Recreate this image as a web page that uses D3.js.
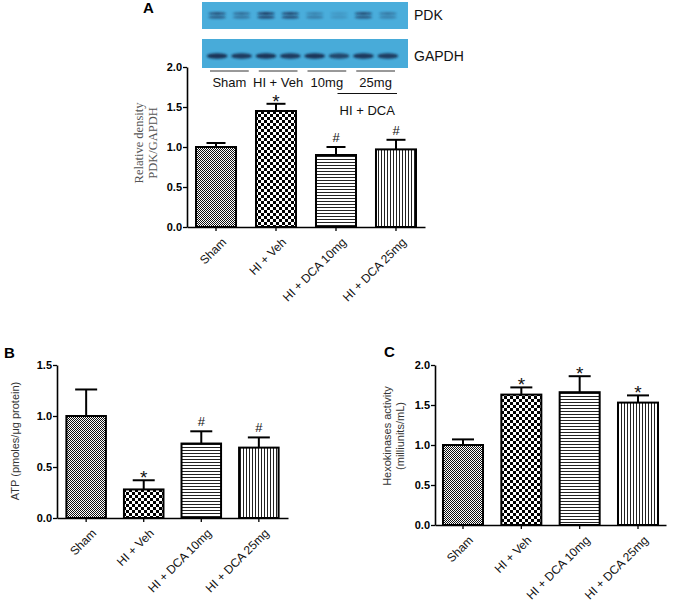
<!DOCTYPE html>
<html><head><meta charset="utf-8">
<script src="https://cdn.jsdelivr.net/npm/d3@7"></script>
<style>
body{margin:0;background:#fff}
svg{display:block;font-family:Arial,"Liberation Sans",sans-serif}
</style>
</head><body>
<svg id="chart" width="675" height="603"></svg>
<script>
// ---------------- data ----------------
const categories = ["Sham", "HI + Veh", "HI + DCA 10mg", "HI + DCA 25mg"];
const patterns = ["pSham", "pVeh", "pH", "pV"];

const pdkMeans = [1.00, 1.45, 0.90, 0.97];
const pdkErrors = [0.05, 0.09, 0.10, 0.12];
const pdkMarks = ["", "*", "#", "#"];
const pdkTicks = [0.0, 0.5, 1.0, 1.5, 2.0];

const atpMeans = [1.00, 0.28, 0.73, 0.69];
const atpErrors = [0.26, 0.09, 0.12, 0.10];
const atpMarks = ["", "*", "#", "#"];
const atpTicks = [0.0, 0.5, 1.0, 1.5];

const hkMeans = [1.00, 1.63, 1.66, 1.53];
const hkErrors = [0.07, 0.09, 0.20, 0.09];
const hkMarks = ["", "*", "*", "*"];
const hkTicks = [0.0, 0.5, 1.0, 1.5, 2.0];

// western blot lanes (relative band intensity)
const blotLanes = d3.range(8);
const pdkUpperBand = [0.75, 0.55, 0.95, 0.85, 0.35, 0.18, 0.80, 0.45];
const pdkLowerBand = [0.70, 0.50, 0.90, 0.85, 0.45, 0.22, 0.75, 0.40];
const gapdhBand = [0.95, 0.90, 0.95, 0.90, 0.95, 0.80, 0.92, 0.88];
const blotGroups = ["Sham", "HI + Veh", "10mg", "25mg"];

// ---------------- setup ----------------
const svg = d3.select("#chart");
svg.append("rect").attr("width", 675).attr("height", 603).attr("fill", "#fff");
const defs = svg.append("defs");

// patterns
const pS = defs.append("pattern").attr("id", "pSham").attr("patternUnits", "userSpaceOnUse").attr("width", 2).attr("height", 2);
pS.append("rect").attr("width", 2).attr("height", 2).attr("fill", "#fff");
pS.append("rect").attr("width", 1).attr("height", 1).attr("fill", "#111");
pS.append("rect").attr("x", 1).attr("y", 1).attr("width", 1).attr("height", 1).attr("fill", "#111");

const pVe = defs.append("pattern").attr("id", "pVeh").attr("patternUnits", "userSpaceOnUse").attr("width", 6).attr("height", 6);
pVe.append("rect").attr("width", 6).attr("height", 6).attr("fill", "#fff");
pVe.append("rect").attr("width", 3).attr("height", 3).attr("fill", "#000");
pVe.append("rect").attr("x", 3).attr("y", 3).attr("width", 3).attr("height", 3).attr("fill", "#000");

const pH = defs.append("pattern").attr("id", "pH").attr("patternUnits", "userSpaceOnUse").attr("width", 3).attr("height", 3);
pH.append("rect").attr("width", 3).attr("height", 3).attr("fill", "#fff");
pH.append("rect").attr("width", 3).attr("height", 1).attr("fill", "#222");

const pV = defs.append("pattern").attr("id", "pV").attr("patternUnits", "userSpaceOnUse").attr("width", 3).attr("height", 3);
pV.append("rect").attr("width", 3).attr("height", 3).attr("fill", "#fff");
pV.append("rect").attr("width", 1).attr("height", 3).attr("fill", "#222");

defs.append("filter").attr("id", "blur1").attr("x", "-30%").attr("y", "-100%").attr("width", "160%").attr("height", "300%")
  .append("feGaussianBlur").attr("stdDeviation", 0.9);
defs.append("filter").attr("id", "blur2").attr("x", "-30%").attr("y", "-100%").attr("width", "160%").attr("height", "300%")
  .append("feGaussianBlur").attr("stdDeviation", 1.1);

// ---------------- panel function ----------------
function drawPanel(opt) {
  const g = svg.append("g");
  const x = d3.scaleBand().domain(categories).range(opt.xRange)
    .paddingInner(opt.padIn).paddingOuter(opt.padOut);
  const y = d3.scaleLinear().domain([0, opt.yMax]).range(opt.yRange);
  const y0 = y(0);

  // bars
  g.selectAll("rect.bar").data(categories).join("rect")
    .attr("class", "bar")
    .attr("x", d => x(d))
    .attr("width", x.bandwidth())
    .attr("y", (d, i) => y(opt.means[i]))
    .attr("height", (d, i) => y0 - y(opt.means[i]))
    .attr("fill", (d, i) => `url(#${patterns[i]})`)
    .attr("stroke", "#000").attr("stroke-width", 2);

  // error bars
  categories.forEach((c, i) => {
    const cx = x(c) + x.bandwidth() / 2;
    const top = y(opt.means[i] + opt.errors[i]);
    g.append("line").attr("x1", cx).attr("x2", cx).attr("y1", y(opt.means[i])).attr("y2", top)
      .attr("stroke", "#000").attr("stroke-width", 2);
    g.append("line").attr("x1", cx - opt.cap / 2).attr("x2", cx + opt.cap / 2).attr("y1", top).attr("y2", top)
      .attr("stroke", "#000").attr("stroke-width", 2);
    const m = opt.marks[i];
    if (m === "*") {
      g.append("text").attr("x", cx).attr("y", top + 4).attr("text-anchor", "middle")
        .attr("font-size", 19).attr("fill", "#111").text("*");
    } else if (m === "#") {
      g.append("text").attr("x", cx).attr("y", top - 5).attr("text-anchor", "middle")
        .attr("font-size", 13).attr("fill", "#111").text("#");
    }
  });

  // y axis
  const ya = g.append("g").attr("transform", `translate(${opt.xRange[0]},0)`)
    .call(d3.axisLeft(y).tickValues(opt.ticks).tickFormat(d3.format(".1f")).tickSize(4).tickSizeOuter(0));
  ya.select(".domain").attr("stroke-width", 1.6);
  ya.selectAll(".tick line").attr("stroke-width", 1.3);
  ya.selectAll(".tick text").attr("font-size", 11).attr("font-weight", "bold")
    .attr("font-family", "Arial, 'Liberation Sans', sans-serif").attr("fill", "#000").attr("x", -5);

  // x axis
  const xa = g.append("g").attr("transform", `translate(0,${y0})`)
    .call(d3.axisBottom(x).tickSize(4).tickSizeOuter(0));
  xa.select(".domain").attr("stroke-width", 1.6);
  xa.selectAll(".tick line").attr("stroke-width", 1.3);
  xa.selectAll(".tick text")
    .attr("font-size", 12).attr("font-family", "Arial, 'Liberation Sans', sans-serif").attr("fill", "#111")
    .attr("text-anchor", "end")
    .attr("transform", "translate(5,10) rotate(-45)")
    .attr("x", 0).attr("y", 0).attr("dy", "0.7em");

  // panel label
  g.append("text").attr("x", opt.label[0]).attr("y", opt.label[1]).attr("font-size", 15)
    .attr("font-weight", "bold").attr("fill", "#000").text(opt.label[2]);

  // y title
  const yt = g.append("text").attr("transform", `translate(${opt.ytPos[0]},${opt.ytPos[1]}) rotate(-90)`)
    .attr("text-anchor", "middle").attr("font-size", opt.ytSize).attr("fill", opt.ytColor)
    .attr("font-family", opt.ytFont);
  opt.ytLines.forEach((t, k) => {
    yt.append("tspan").attr("x", 0).attr("dy", k === 0 ? 0 : opt.ytSize * 1.15).text(t);
  });
  return { x, y };
}

// Panel A
drawPanel({
  xRange: [187, 425], padIn: 0.333, padOut: 0.15,
  yRange: [227, 67], yMax: 2.0, ticks: pdkTicks,
  means: pdkMeans, errors: pdkErrors, marks: pdkMarks, cap: 19,
  label: [143, 13, "A"],
  ytPos: [143, 143], ytLines: ["Relative density", "PDK/GAPDH"], ytSize: 12.5,
  ytColor: "#555", ytFont: "'Liberation Serif', 'Times New Roman', serif"
});

// Panel B
drawPanel({
  xRange: [57, 288], padIn: 0.313, padOut: 0.163,
  yRange: [518, 365], yMax: 1.5, ticks: atpTicks,
  means: atpMeans, errors: atpErrors, marks: atpMarks, cap: 22,
  label: [4, 358, "B"],
  ytPos: [19, 441], ytLines: ["ATP (pmoles/\u03bcg protein)"], ytSize: 11,
  ytColor: "#333", ytFont: "Arial, 'Liberation Sans', sans-serif"
});

// Panel C
drawPanel({
  xRange: [435, 666], padIn: 0.314, padOut: 0.137,
  yRange: [525, 365], yMax: 2.0, ticks: hkTicks,
  means: hkMeans, errors: hkErrors, marks: hkMarks, cap: 22,
  label: [384, 357, "C"],
  ytPos: [391, 436], ytLines: ["Hexokinases  activity", "(milliunits/mL)"], ytSize: 11,
  ytColor: "#333", ytFont: "Arial, 'Liberation Sans', sans-serif"
});

// ---------------- western blot (panel A header) ----------------
const lane = d3.scaleBand().domain(blotLanes).range([205, 400]);
const blot = svg.append("g");
blot.append("rect").attr("x", 202).attr("y", 2).attr("width", 206).attr("height", 27).attr("fill", "#4aaddb");
blot.append("rect").attr("x", 202).attr("y", 39).attr("width", 206).attr("height", 29).attr("fill", "#48abd9");
const band = d3.scaleLinear().domain([0, 1]).range([0, 0.95]);
blot.selectAll("ellipse.pu").data(blotLanes).join("ellipse")
  .attr("cx", d => lane(d) + lane.bandwidth() / 2).attr("cy", 13.5)
  .attr("rx", 9).attr("ry", 1.4).attr("fill", "#1a2f55")
  .attr("opacity", d => band(pdkUpperBand[d])).attr("filter", "url(#blur1)");
blot.selectAll("ellipse.pl").data(blotLanes).join("ellipse")
  .attr("cx", d => lane(d) + lane.bandwidth() / 2).attr("cy", 17.2)
  .attr("rx", 9).attr("ry", 1.4).attr("fill", "#1a2f55")
  .attr("opacity", d => band(pdkLowerBand[d])).attr("filter", "url(#blur1)");
blot.selectAll("ellipse.g").data(blotLanes).join("ellipse")
  .attr("cx", d => lane(d) + lane.bandwidth() / 2).attr("cy", 56)
  .attr("rx", 10.5).attr("ry", 2.8).attr("fill", "#13284a")
  .attr("opacity", d => band(gapdhBand[d])).attr("filter", "url(#blur2)");

blot.append("text").attr("x", 414).attr("y", 20).attr("font-size", 14).attr("fill", "#111").text("PDK");
blot.append("text").attr("x", 414).attr("y", 61).attr("font-size", 14).attr("fill", "#111").text("GAPDH");

blotGroups.forEach((name, i) => {
  const x1 = lane(2 * i) + 5, x2 = lane(2 * i + 1) + lane.bandwidth() - 5;
  blot.append("line").attr("x1", x1).attr("x2", x2).attr("y1", 71).attr("y2", 71)
    .attr("stroke", "#333").attr("stroke-width", 1);
  blot.append("text").attr("x", (x1 + x2) / 2).attr("y", 87).attr("text-anchor", "middle")
    .attr("font-size", 13).attr("fill", "#111").text(name);
});
const dx1 = lane(4) + 35, dx2 = lane(7) + lane.bandwidth() - 3;
blot.append("line").attr("x1", dx1).attr("x2", dx2).attr("y1", 93.5).attr("y2", 93.5)
  .attr("stroke", "#111").attr("stroke-width", 1);
blot.append("text").attr("x", (dx1 + dx2) / 2).attr("y", 115).attr("text-anchor", "middle")
  .attr("font-size", 13).attr("fill", "#111").text("HI + DCA");
</script>
</body></html>
